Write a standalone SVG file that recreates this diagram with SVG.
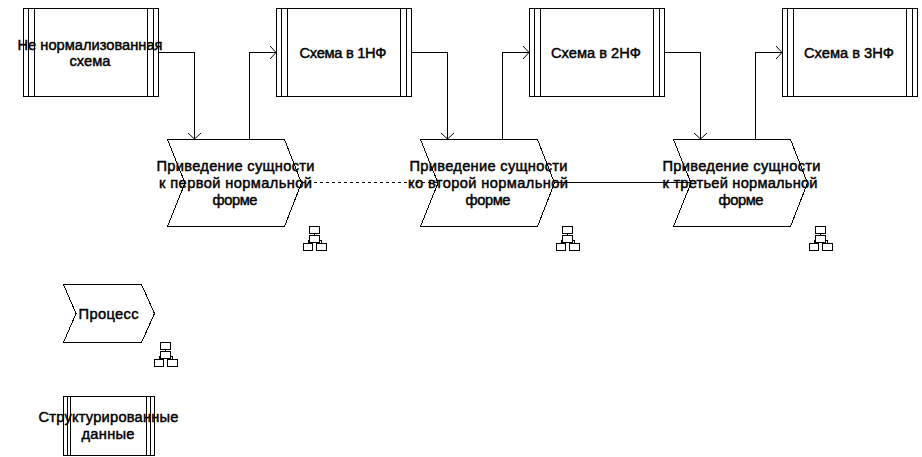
<svg xmlns="http://www.w3.org/2000/svg" width="922" height="457" viewBox="0 0 922 457">
<style>
.s{fill:none;stroke:#000;stroke-width:1;shape-rendering:crispEdges}
.n{fill:#fff;stroke:#000;stroke-width:1;shape-rendering:crispEdges}
.c{fill:none;stroke:#000;stroke-width:1;shape-rendering:crispEdges}
.t{font-family:"Liberation Sans",Arial,sans-serif;font-size:14.67px;fill:#000;stroke:#000;stroke-width:.45;text-anchor:middle}
</style>
<defs>
<g id="data"><rect class="n" x="0.5" y="0.5" width="135" height="88"/><path class="s" d="M5.5 .5V88.5M11.5 .5V88.5M124.5 .5V88.5M130.5 .5V88.5"/></g>
<path id="proc" class="n" d="M.5 .5H117.5L134.5 44 117.5 87.5H.5L18 44Z"/>
<g id="ico"><rect class="n" x="6.5" y="0.5" width="10" height="7"/><rect class="n" x="6.5" y="9.5" width="10" height="7"/><rect class="n" x=".5" y="17.5" width="9" height="7"/><rect class="n" x="13.5" y="17.5" width="10" height="7"/><path class="s" d="M11.5 7.5V9.5M5 17.5V14.5H6.5M16.5 14.5H18.5V17.5"/></g>
<marker id="a" markerUnits="userSpaceOnUse" markerWidth="16" markerHeight="16" refX="7" refY="7" orient="auto" overflow="visible"><path d="M1 .5L7 7 1 13.5" fill="none" stroke="#000" stroke-width="1"/></marker>
</defs>
<g id="connectors">
<path class="c" marker-end="url(#a)" d="M158 52.5H194.5V139"/>
<path class="c" marker-end="url(#a)" d="M249.5 139V52.5H276"/>
<path class="c" marker-end="url(#a)" d="M411 52.5H447.5V139"/>
<path class="c" marker-end="url(#a)" d="M502.5 139V52.5H529"/>
<path class="c" marker-end="url(#a)" d="M664 52.5H700.5V139"/>
<path class="c" marker-end="url(#a)" d="M755.5 139V52.5H782"/>
<path class="c" stroke-dasharray="3 3" d="M302 182.5H438"/>
<path class="c" d="M555 182.5H691"/>
</g>
<g id="n1"><use href="#data" x="23" y="8"/><text class="t" x="90" y="50" textLength="145">Не нормализованная</text><text class="t" x="90" y="66" textLength="41">схема</text></g>
<g id="n2"><use href="#data" x="276" y="8"/><text class="t" x="343" y="58" textLength="87">Схема в 1НФ</text></g>
<g id="n3"><use href="#data" x="529" y="8"/><text class="t" x="596" y="58" textLength="90">Схема в 2НФ</text></g>
<g id="n4"><use href="#data" x="782" y="8"/><text class="t" x="849" y="58" textLength="90">Схема в 3НФ</text></g>
<g id="p1"><use href="#proc" x="167" y="139"/><text class="t" x="235.5" y="171" textLength="158">Приведение сущности</text><text class="t" x="235.5" y="188" textLength="153">к первой нормальной</text><text class="t" x="235" y="205" textLength="45">форме</text><use href="#ico" x="303" y="226"/></g>
<g id="p2"><use href="#proc" x="420" y="139"/><text class="t" x="488.5" y="171" textLength="158">Приведение сущности</text><text class="t" x="488" y="188" textLength="160">ко второй нормальной</text><text class="t" x="488" y="205" textLength="45">форме</text><use href="#ico" x="556" y="226"/></g>
<g id="p3"><use href="#proc" x="673" y="139"/><text class="t" x="741.5" y="171" textLength="158">Приведение сущности</text><text class="t" x="740" y="188" textLength="155">к третьей нормальной</text><text class="t" x="741" y="205" textLength="45">форме</text><use href="#ico" x="809" y="226"/></g>
<g id="leg1"><path class="n" d="M63.5 284.5H141.5L154.5 313.5 141.5 342.5H63.5L76 313.5Z"/><text class="t" x="108.5" y="318.5" textLength="60">Процесс</text><use href="#ico" x="154" y="342"/></g>
<g id="leg2"><rect class="n" x="63.5" y="396.5" width="91" height="59"/><path class="s" d="M67.5 396.5V455.5M70.5 396.5V455.5M146.5 396.5V455.5M150.5 396.5V455.5"/><text class="t" x="108.5" y="422" textLength="140">Структурированные</text><text class="t" x="108" y="439" textLength="53">данные</text></g>
</svg>
